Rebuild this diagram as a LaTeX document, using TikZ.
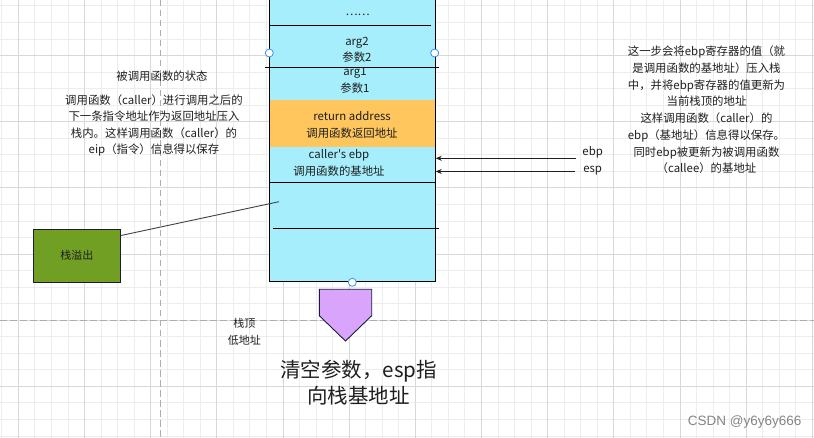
\documentclass[tikz,border=0pt]{standalone}
\usepackage{fontspec}
\setmainfont{Noto Sans CJK SC}
\newfontfamily\cjkplain{Noto Sans CJK SC}
\newfontfamily\wmfont{Liberation Sans}
\usetikzlibrary{arrows.meta,calc}
\definecolor{stackfill}{HTML}{A6EEFC}
\definecolor{retfill}{HTML}{FFC65E}
\definecolor{greenfill}{HTML}{709F24}
\definecolor{purplefill}{HTML}{D9A5FC}
\definecolor{handleblue}{HTML}{3F8EF3}
\definecolor{minorgrid}{HTML}{EDEDED}
\definecolor{majorgrid}{HTML}{D8D8D8}
\definecolor{dashgrid}{HTML}{ADADAD}
\definecolor{ink}{HTML}{1F1F1F}
\definecolor{navy}{HTML}{1B1B3A}
\definecolor{wmgray}{HTML}{858585}
\begin{document}
\begin{tikzpicture}[x=1pt,y=-1pt,
  minorline/.style={draw=minorgrid,line width=0.8pt},
  majorline/.style={draw=majorgrid,line width=0.8pt},
  dashline/.style={draw=dashgrid,line width=0.9pt,dash pattern=on 6.5pt off 3.5pt},
  stackbox/.style={draw=black,fill=stackfill,line width=1pt,inner sep=0},
  retbox/.style={fill=retfill,inner sep=0},
  divline/.style={draw=black,line width=0.9pt},
  handle/.style={circle,draw=handleblue,fill=white,line width=0.8pt,minimum size=8pt,inner sep=0},
  txt/.style={font=\cjkplain\fontsize{11.4}{16.6}\selectfont,text=ink,inner sep=0,align=center},
  bigtxt/.style={font=\cjkplain\fontsize{20.5}{26.7}\selectfont,text=ink,inner sep=0,align=center},
  greenbox/.style={draw=navy,fill=greenfill,line width=0.9pt,minimum width=87pt,minimum height=53pt,inner sep=0,font=\cjkplain\fontsize{11}{13}\selectfont,text=ink},
  pentshape/.style={draw=navy,fill=purplefill,line width=0.9pt},
  ptr/.style={draw=ink,line width=0.9pt,-{Stealth[length=6pt,width=5pt]}},
  conn/.style={draw=ink!85,line width=0.9pt},
  wm/.style={font=\wmfont\fontsize{13.5}{15}\selectfont,text=wmgray,inner sep=0}
]
\clip (0,0) rectangle (814,438);
\fill[white] (0,0) rectangle (814,438);
% grid
\foreach \i in {0,...,49} {\draw[minorline] ({1.76+16.54*\i},0) -- ({1.76+16.54*\i},438);}
\foreach \j in {0,...,26} {\draw[minorline] (0,{5.9+16.54*\j}) -- (814,{5.9+16.54*\j});}
\foreach \i in {0,...,12} {\draw[majorline] ({18.3+66.16*\i},0) -- ({18.3+66.16*\i},438);}
\foreach \j in {0,...,5} {\draw[majorline] (0,{55.5+66.16*\j}) -- (814,{55.5+66.16*\j});}
\draw[dashline] (160.3,0) -- (160.3,438);
\draw[dashline] (0,320) -- (814,320);

% stack
\node[stackbox,anchor=south west,minimum width=165.4pt,minimum height=295pt] (stack) at (269.3,282.3) {};
\node[retbox,anchor=north west,minimum width=165.4pt,minimum height=47.3pt] (ret) at (269.3,100) {};
\draw[divline] (270,25) -- (430.7,25);
\draw[divline] (265,67.7) -- (439,67.7);
\draw[divline] (269.3,182.3) -- (434.7,182.3);
\draw[divline] (273.3,228.3) -- (438.7,228.3);

\node[txt] (dots) at (357.6,15) {……};
\node[txt] (arg2) at (357,50) {arg2\\参数2};
\node[txt] (arg1) at (355,80.3) {arg1\\参数1};
\node[txt] (retaddr) at (352,125) {return address\\调用函数返回地址};
\node[txt] (cebp) at (339,162.7) {caller's ebp\\调用函数的基地址};

\node[handle] (h1) at (269.3,53) {};
\node[handle] (h2) at (434.7,53) {};
\node[handle] (h3) at (352.3,282.3) {};

% pointers
\node[txt] (ebplbl) at (592.7,152.7) {ebp};
\node[txt] (esplbl) at (592.7,170.7) {esp};
\coordinate (ebpstart) at (576,158.3);
\coordinate (espstart) at (575,171.5);
\draw[ptr] (ebpstart) -- (stack.east |- ebpstart);
\draw[ptr] (espstart) -- (stack.east |- espstart);

% left notes
\node[txt] (calleestate) at (162,75.7) {被调用函数的状态};
\node[txt,font=\cjkplain\fontsize{11.4}{16.4}\selectfont] (leftnote) at (154,125.3) {调用函数（caller）进行调用之后的\\下一条指令地址作为返回地址压入\\栈内。这样调用函数（caller）的\\eip（指令）信息得以保存};

% right notes
\node[txt,font=\cjkplain\fontsize{11.4}{16.67}\selectfont] (rightnote) at (706.5,110) {这一步会将ebp寄存器的值（就\\是调用函数的基地址）压入栈\\中，并将ebp寄存器的值更新为\\当前栈顶的地址\\这样调用函数（caller）的\\ebp（基地址）信息得以保存。\\同时ebp被更新为被调用函数\\（callee）的基地址};

% overflow
\node[greenbox] (overflow) at (76.8,255.8) {栈溢出};
\coordinate (ovend) at (279,201.7);
\draw[conn] ([yshift=-6.7pt]overflow.north east) -- (ovend);

% bottom
\draw[pentshape] (319.3,289.3) -- (371.7,289.3) -- (371.7,315.7) -- (345.5,341) -- (319.3,315.7) -- cycle;
\node[txt,font=\cjkplain\fontsize{11}{17}\selectfont] (stacktop) at (244.3,331.8) {栈顶\\低地址};
\node[bigtxt] (clear) at (358.5,382.7) {清空参数，esp指\\向栈基地址};

\node[wm] (watermark) at (744.7,421.7) {CSDN @y6y6y666};
\end{tikzpicture}
\end{document}
